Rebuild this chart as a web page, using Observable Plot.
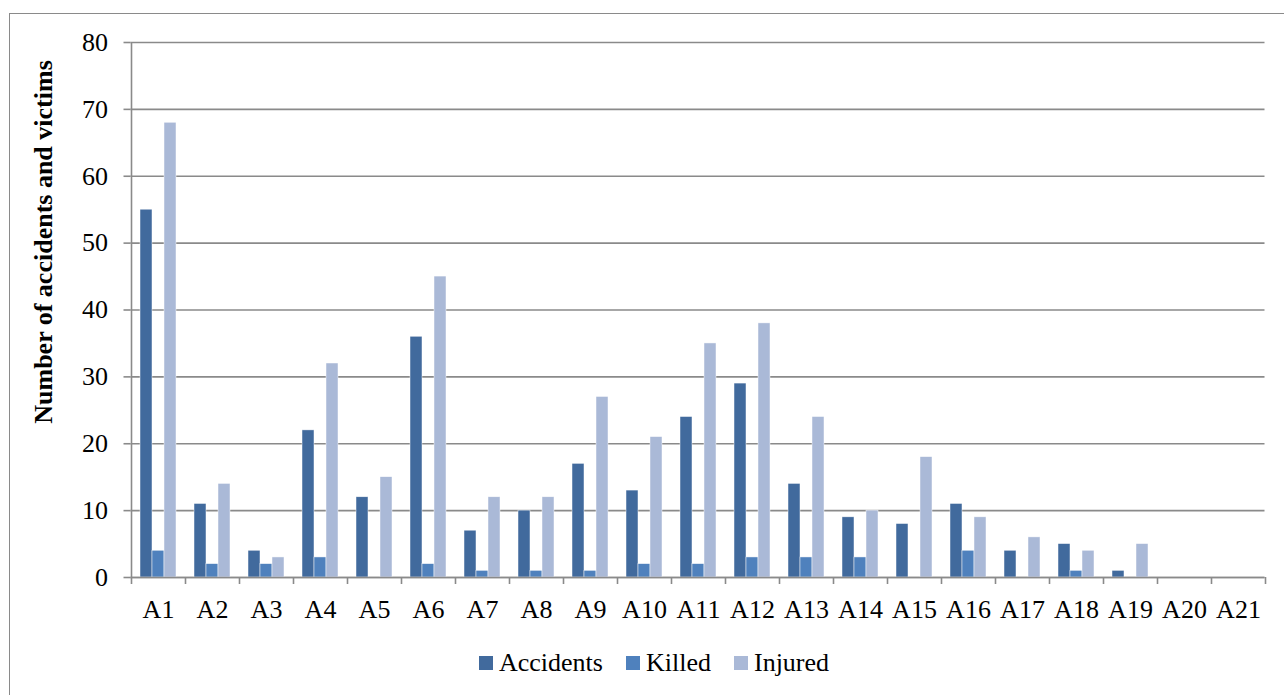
<!DOCTYPE html>
<html>
<head>
<meta charset="utf-8">
<script src="https://cdn.jsdelivr.net/npm/d3@7"></script>
<script src="https://cdn.jsdelivr.net/npm/@observablehq/plot@0.6"></script>
<style>
  html, body { margin: 0; padding: 0; background: #fff; }
  #wrap { position: relative; width: 1284px; height: 695px; overflow: hidden; font-family: "Liberation Serif", "Times New Roman", serif; }
  #border { position: absolute; left: 9px; top: 13px; width: 1300px; height: 700px; border-left: 1.5px solid #8a8a8a; border-top: 1.5px solid #8a8a8a; box-sizing: border-box; }
  #chart { position: absolute; left: 0; top: 0; }
  #ytitle { position: absolute; left: 44px; top: 242px; transform: translate(-50%, -50%) rotate(-90deg); white-space: nowrap; font-weight: bold; font-size: 26px; line-height: 30px; color: #000; }
  #legend { position: absolute; left: 479px; top: 648px; display: flex; align-items: center; font-size: 26px; line-height: 30px; color: #000; white-space: nowrap; }
  .item { display: flex; align-items: center; margin-right: 23px; }
  .sw { width: 14px; height: 14px; margin-right: 6px; }
</style>
</head>
<body>
<div id="wrap">
  <div id="border"></div>
  <div id="chart"></div>
  <div id="ytitle">Number of accidents and victims</div>
  <div id="legend"></div>
</div>
<script>
const categories = ["A1","A2","A3","A4","A5","A6","A7","A8","A9","A10","A11","A12","A13","A14","A15","A16","A17","A18","A19","A20","A21"];
const seriesNames = ["Accidents","Killed","Injured"];
const accidents = [55,11,4,22,12,36,7,10,17,13,24,29,14,9,8,11,4,5,1,0,0];
const killed    = [4,2,2,3,0,2,1,1,1,2,2,3,3,3,0,4,0,1,0,0,0];
const injured   = [68,14,3,32,15,45,12,12,27,21,35,38,24,10,18,9,6,4,5,0,0];
const yTicks = [0,10,20,30,40,50,60,70,80];
const seriesColors = ["#416a9d","#4f81bd","#aab9d7"];

const seriesValues = [accidents, killed, injured];
const rows = categories.flatMap((c, i) => seriesNames.map((s, j) => ({category: c, series: s, value: seriesValues[j][i]})));

const W = 1284, H = 630;
const ml = 130.5, mr = 19.5, mt = 42, mb = 53;
const band = (W - ml - mr) / categories.length; // 54
const barW = 12, outer = (band - barW * seriesNames.length) / 2;
const gridColor = "#8a8a8a";

const barMarks = seriesNames.map((s, j) => Plot.barY(rows.filter(d => d.series === s), {
  x: "category", y: "value", fill: seriesColors[j],
  insetLeft: outer + barW * j, insetRight: band - outer - barW * (j + 1),
  stroke: "#ffffff", strokeWidth: 0.6, strokeOpacity: 0.8
}));

const plot = Plot.plot({
  width: W, height: H,
  marginLeft: ml, marginRight: mr, marginTop: mt, marginBottom: mb,
  style: {fontFamily: "Liberation Serif, Times New Roman, serif", fontSize: "26px", color: "#000", background: "transparent"},
  x: {type: "band", domain: categories, padding: 0},
  y: {domain: [0, 80]},
  marks: [
    Plot.gridY(yTicks, {stroke: gridColor, strokeOpacity: 1, strokeWidth: 1.6}),
    ...barMarks,
    Plot.ruleY([0], {stroke: gridColor, strokeWidth: 1.6}),
    Plot.ruleX([categories[0]], {x: d => d, y1: 0, y2: 80, dx: -band / 2, stroke: gridColor, strokeWidth: 1.6}),
    Plot.ruleX(categories, {x: d => d, y1: 0, y2: 0, insetBottom: -7, dx: -band / 2, stroke: gridColor, strokeWidth: 1.6}),
    Plot.ruleX([categories[categories.length - 1]], {x: d => d, y1: 0, y2: 0, insetBottom: -7, dx: band / 2, stroke: gridColor, strokeWidth: 1.6}),
    Plot.axisY(yTicks, {tickSize: 7, tickPadding: 16, stroke: gridColor, strokeWidth: 1.6, fill: "#000", fontSize: 26, label: null}),
    Plot.axisX({tickSize: 0, tickPadding: 22, fill: "#000", fontSize: 26, label: null})
  ]
});
document.getElementById("chart").appendChild(plot);

const legend = document.getElementById("legend");
seriesNames.forEach((s, j) => {
  const item = document.createElement("div");
  item.className = "item";
  const sw = document.createElement("div");
  sw.className = "sw";
  sw.style.background = seriesColors[j];
  const t = document.createElement("span");
  t.textContent = s;
  item.appendChild(sw);
  item.appendChild(t);
  legend.appendChild(item);
});
</script>
</body>
</html>
